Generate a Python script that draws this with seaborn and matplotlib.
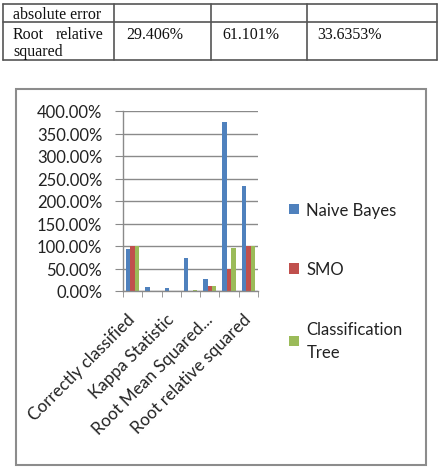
import pandas as pd
import seaborn as sns
import matplotlib.pyplot as plt
from matplotlib import ticker
from matplotlib.lines import Line2D
from matplotlib.patches import Rectangle

# Datos del grafico
categorias = ["Correctly classified", "Incorrectly classified", "Kappa Statistic",
              "Mean absolute error", "Root Mean Squared...", "Relative absolute error",
              "Root relative squared"]
naive_bayes = [93.0, 8.0, 6.0, 73.0, 27.0, 375.0, 234.0]
smo = [100.0, 0.0, 0.0, 0.0, 12.0, 49.0, 100.0]
arbol = [100.0, 0.0, 0.0, 2.0, 12.0, 95.0, 100.0]
series = ["Naive Bayes", "SMO", "Classification\nTree"]
colores = ["#4F81BD", "#C0504D", "#9BBB59"]

# Fila de la tabla que aparece arriba
tabla_filas = ["absolute error", "Root relative squared"]
tabla_valores = ["29.406%", "61.101%", "33.6353%"]

df = pd.DataFrame({
    "Metrica": categorias * 3,
    "Valor": naive_bayes + smo + arbol,
    "Modelo": [s for s in series for _ in categorias],
})

W, H = 439, 477
fx = lambda x: x / W
fy = lambda y: 1 - y / H

sns.set_style("white")
plt.rcParams['font.family'] = ['Lato', 'DejaVu Sans']
fig = plt.figure(figsize=(W / 100, H / 100), dpi=100)

# ---- tabla (fragmento) ----
lc = "#555555"
for y in [5, 23, 61]:
    fig.add_artist(Line2D([fx(3), fx(437)], [fy(y), fy(y)], color=lc, lw=1.2))
for x in [3, 114, 211, 307, 437]:
    fig.add_artist(Line2D([fx(x), fx(x)], [fy(5), fy(61)], color=lc, lw=1.2))
serif = dict(family="Liberation Serif", fontsize=11.5, color="#111111", va="center")
fig.text(fx(13), fy(15), tabla_filas[0], **serif)
fig.text(fx(13), fy(35), "Root", **serif)
fig.text(fx(103), fy(35), "relative", ha="right", **serif)
fig.text(fx(13), fy(52), "squared", **serif)
for x, v in zip([126, 222, 317], tabla_valores):
    fig.text(fx(x), fy(35), v, **serif)

# ---- marco del grafico ----
fig.add_artist(Rectangle((fx(16), fy(466)), fx(426) - fx(16), fy(90) - fy(466),
                         fill=False, edgecolor="#8c8c8c", lw=1.5))

ax = fig.add_axes([fx(123), fy(292), fx(258) - fx(123), fy(112) - fy(292)])
sns.barplot(data=df, x="Metrica", y="Valor", hue="Modelo", palette=colores,
            width=0.69, gap=0, saturation=1, linewidth=0, ax=ax, legend=True)

ax.set_ylim(0, 400)
ax.set_xlim(-0.5, len(categorias) - 0.5)
ax.yaxis.set_major_locator(ticker.MultipleLocator(50))
ax.yaxis.set_major_formatter(ticker.StrMethodFormatter("{x:.2f}%"))
ax.grid(axis="y", color="#8a8a8a", lw=1)
ax.set_axisbelow(True)
for s in ["top", "right"]:
    ax.spines[s].set_visible(False)
for s in ["left", "bottom"]:
    ax.spines[s].set_color("#8a8a8a")
    ax.spines[s].set_linewidth(1)
ax.tick_params(axis="y", which="major", left=True, length=6, color="#8a8a8a",
               pad=9, labelsize=12, labelcolor="#222222")

ax.set_xticks(range(len(categorias)))
ax.set_xticklabels([c if i % 2 == 0 else "" for i, c in enumerate(categorias)],
                   rotation=45, ha="right", va="center", rotation_mode="anchor")
ax.set_xticks([i - 0.5 for i in range(len(categorias) + 1)], minor=True)
ax.tick_params(axis="x", which="major", length=0, pad=18, labelsize=12.3,
               labelcolor="#222222")
ax.tick_params(axis="x", which="minor", bottom=True, length=4, color="#8a8a8a")
ax.set_xlabel("")
ax.set_ylabel("")

leg = ax.legend(loc="upper left", bbox_to_anchor=(fx(289), fy(203)),
                bbox_transform=fig.transFigure, frameon=False, fontsize=12,
                handlelength=0.6, handleheight=0.6, handletextpad=0.45,
                labelspacing=2.6, borderpad=0, borderaxespad=0)
for t in leg.get_texts():
    t.set_color("#222222")
    t.set_linespacing(1.6)

fig.savefig("out.png", dpi=100)
